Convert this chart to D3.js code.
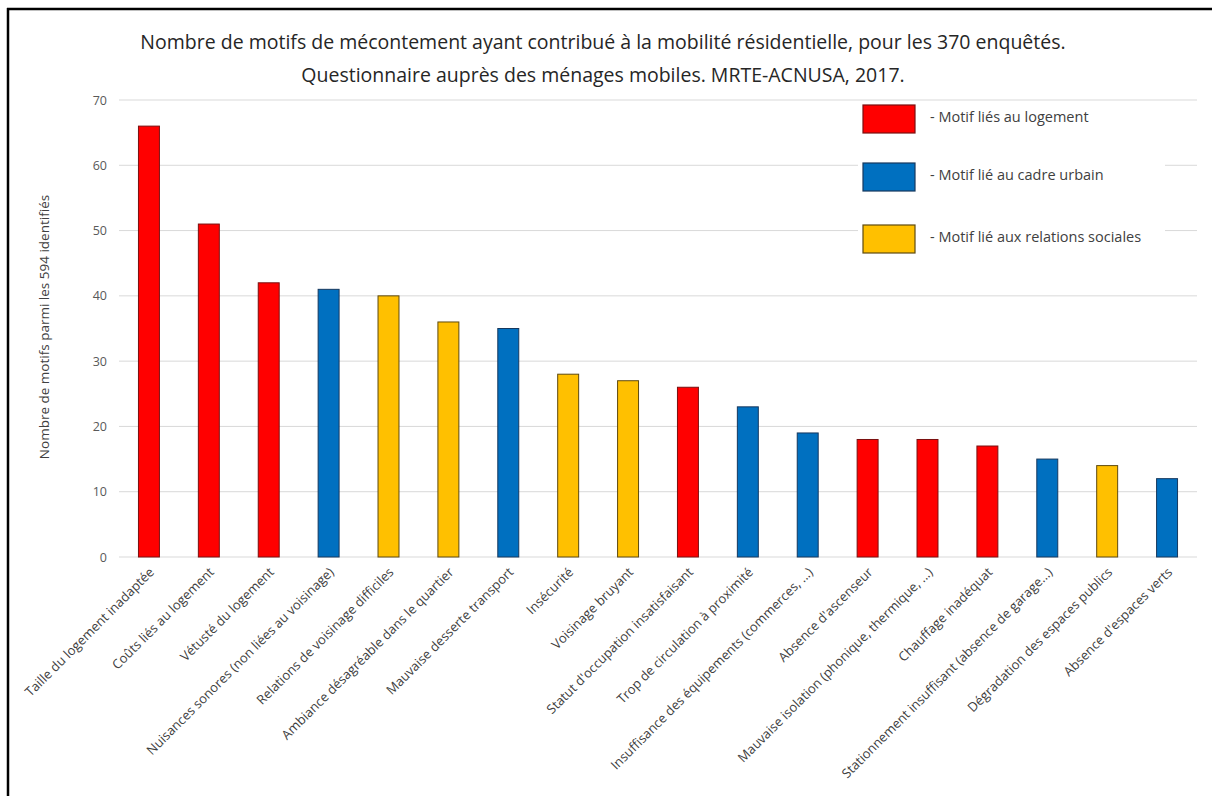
<!DOCTYPE html>
<html>
<head>
<meta charset="utf-8">
<script src="https://cdn.jsdelivr.net/npm/d3@7"></script>
<style>
  body { margin: 0; background: #fff; }
  svg { display: block; font-family: 'Open Sans', sans-serif; }
</style>
</head>
<body>
<svg width="1212" height="796"></svg>
<script>
(function(d3) {
    'use strict';

    const categories = [
        "Taille du logement inadaptée",
        "Coûts liés au logement",
        "Vétusté du logement",
        "Nuisances sonores (non liées au voisinage)",
        "Relations de voisinage difficiles",
        "Ambiance désagréable dans le quartier",
        "Mauvaise desserte transport",
        "Insécurité",
        "Voisinage bruyant",
        "Statut d'occupation insatisfaisant",
        "Trop  de circulation à proximité",
        "Insuffisance des équipements (commerces, ...)",
        "Absence d'ascenseur",
        "Mauvaise isolation (phonique, thermique, ...)",
        "Chauffage inadéquat",
        "Stationnement insuffisant (absence de garage...)",
        "Dégradation des espaces publics",
        "Absence d'espaces verts"
    ];
    const values = [66, 51, 42, 41, 40, 36, 35, 28, 27, 26, 23, 19, 18, 18, 17, 15, 14, 12];
    const groups = ["logement", "urbain", "social"];
    const barGroup = ["logement", "logement", "logement", "urbain", "social", "social",
        "urbain", "social", "social", "logement", "urbain", "urbain",
        "logement", "logement", "logement", "urbain", "social", "urbain"];
    const legendLabels = ["- Motif liés au logement", "- Motif lié au cadre urbain", "- Motif lié aux relations sociales"];
    const yTicks = [0, 10, 20, 30, 40, 50, 60, 70];

    const data = categories.map((c, i) => ({ name: c, value: values[i], group: barGroup[i] }));

    const fillScale = d3.scaleOrdinal().domain(groups).range(['#ff0000', '#0070c0', '#ffc000']);
    const strokeScale = d3.scaleOrdinal().domain(groups).range(['#7a1010', '#16385e', '#5e4a10']);

    const svg = d3.select('svg');

    // frame (top + left edges only)
    svg.append('line').attr('x1', 7).attr('x2', 1212).attr('y1', 9).attr('y2', 9)
        .attr('stroke', '#000').attr('stroke-width', 2.5);
    svg.append('line').attr('x1', 8).attr('x2', 8).attr('y1', 8).attr('y2', 796)
        .attr('stroke', '#000').attr('stroke-width', 2.5);

    const x = d3.scaleBand()
        .domain(categories)
        .range([119, 1197])
        .paddingInner(0.65)
        .paddingOuter(0.325);

    const y = d3.scaleLinear()
        .domain([0, 70])
        .range([557, 100]);

    // gridlines
    svg.append('g')
        .selectAll('line').data(yTicks)
        .enter().append('line')
        .attr('x1', 119).attr('x2', 1197)
        .attr('y1', d => y(d)).attr('y2', d => y(d))
        .attr('stroke', '#d9d9d9')
        .attr('stroke-width', 1);

    const yAxis = d3.axisLeft(y).tickValues(yTicks).tickSize(0).tickPadding(0);
    const yAxisG = svg.append('g')
        .attr('transform', 'translate(107,0)')
        .call(yAxis);
    yAxisG.select('.domain').remove();
    yAxisG.selectAll('text')
        .attr('fill', '#595959')
        .style('font-size', '12.5px')
        .style('font-family', "'Open Sans', sans-serif");

    svg.append('text')
        .attr('transform', 'translate(49,327) rotate(-90)')
        .attr('text-anchor', 'middle')
        .attr('fill', '#404040')
        .style('font-size', '13.5px')
        .text('Nombre de motifs parmi les 594 identifiés');

    // bars
    svg.append('g')
        .selectAll('rect').data(data)
        .enter().append('rect')
        .attr('x', d => x(d.name))
        .attr('y', d => y(d.value))
        .attr('width', x.bandwidth())
        .attr('height', d => y(0) - y(d.value))
        .attr('fill', d => fillScale(d.group))
        .attr('stroke', d => strokeScale(d.group))
        .attr('stroke-width', 1);

    // x labels, rotated
    const xAxis = d3.axisBottom(x).tickSize(0).tickPadding(0);
    const xAxisG = svg.append('g')
        .attr('transform', `translate(0,${y(0)})`)
        .call(xAxis);
    xAxisG.select('.domain').remove();
    xAxisG.selectAll('text')
        .attr('text-anchor', 'end')
        .attr('fill', '#404040')
        .style('font-size', '13px')
        .style('font-family', "'Open Sans', sans-serif")
        .attr('y', 0)
        .attr('dy', 0)
        .attr('transform', 'translate(6,16) rotate(-45)');

    // legend
    const legendG = svg.append('g');
    legendG.append('rect')
        .attr('x', 858).attr('y', 103)
        .attr('width', 307).attr('height', 159)
        .attr('fill', '#fff');

    const legendItems = legendG.selectAll('.item')
        .data(groups)
        .enter().append('g')
        .attr('class', 'item')
        .attr('transform', (d, i) => `translate(863,${[105, 163, 225][i]})`);

    legendItems.append('rect')
        .attr('width', 52).attr('height', 28)
        .attr('fill', fillScale)
        .attr('stroke', strokeScale)
        .attr('stroke-width', 1.2);

    legendItems.append('text')
        .attr('x', 67)
        .attr('y', 12)
        .attr('dy', '0.32em')
        .attr('fill', '#404040')
        .style('font-size', '14.5px')
        .text((d, i) => legendLabels[i]);

    // title
    const title = svg.append('g')
        .attr('text-anchor', 'middle')
        .attr('fill', '#262626')
        .style('font-size', '19.5px');
    title.append('text').attr('x', 603).attr('y', 49)
        .text('Nombre de motifs de mécontement ayant contribué à la mobilité résidentielle, pour les 370 enquêtés.');
    title.append('text').attr('x', 603).attr('y', 82)
        .text('Questionnaire auprès des ménages mobiles. MRTE-ACNUSA, 2017.');

}(d3));
</script>
</body>
</html>
